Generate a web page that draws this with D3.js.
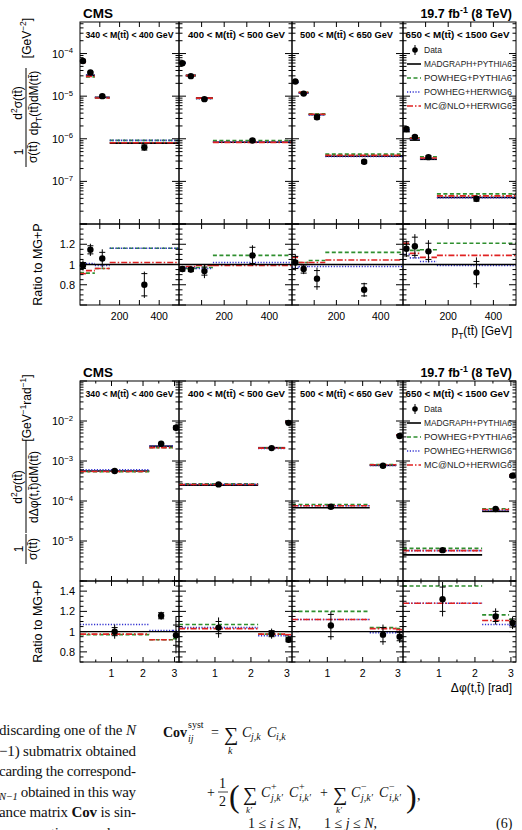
<!DOCTYPE html>
<meta charset="utf-8">
<style>
  body { margin: 0; background: #fff; }
  svg { font-family: "Liberation Sans", Arial, Helvetica, sans-serif; }
  .paper { font-family: "Liberation Serif", "Times New Roman", serif; }
</style>
<body>
<script src="https://d3js.org/d3.v7.min.js"></script>
<script>
// M(tt) bins, one per sub-panel
var massLabels = [["340", "400"], ["400", "500"], ["500", "650"], ["650", "1500"]];
var modelNames = ["MADGRAPH+PYTHIA6", "POWHEG+PYTHIA6", "POWHEG+HERWIG6", "MC@NLO+HERWIG6"];

// pT(tt) distribution
var ptEdges = [0, 30, 75, 150, 500];
var ptData = [[6.7e-5, 3.6e-5, 1.0e-5, 6.3e-7], [5.9e-5, 2.95e-5, 8.5e-6, 9.1e-7],
              [2.2e-5, 1.15e-5, 3.2e-6, 2.9e-7], [1.7e-6, 1.1e-6, 3.7e-7, 3.9e-8]];
var ptMG = [[6.8e-5, 3.1e-5, 9.4e-6, 7.9e-7], [6.2e-5, 3.1e-5, 9.1e-6, 8.3e-7],
            [2.15e-5, 1.2e-5, 3.7e-6, 3.9e-7], [1.47e-6, 9.3e-7, 3.3e-7, 4.2e-8]];
var ptRatioData = [[0.99, 1.145, 1.06, 0.80], [0.955, 0.95, 0.935, 1.09],
                   [1.02, 0.955, 0.86, 0.75], [1.155, 1.18, 1.13, 0.92]];
var ptErrTot = [[0.05, 0.06, 0.09, 0.13], [0.03, 0.03, 0.07, 0.10],
                [0.08, 0.05, 0.11, 0.07], [0.08, 0.12, 0.11, 0.15]];
var ptErrStat = [[0.03, 0.04, 0.06, 0.11], [0.02, 0.02, 0.04, 0.08],
                 [0.06, 0.04, 0.08, 0.06], [0.07, 0.09, 0.08, 0.11]];
var ptPowPy = [[0.92, 0.915, 0.96, 1.16], [0.96, 0.96, 0.97, 1.09],
               [1.04, 1.02, 1.04, 1.12], [1.20, 1.14, 1.145, 1.21]];
var ptPowHw = [[1.01, 1.01, 0.99, 1.16], [0.96, 0.97, 0.96, 1.02],
               [0.97, 0.98, 0.98, 0.98], [1.10, 1.065, 1.03, 0.99]];
var ptMcnlo = [[0.91, 0.94, 0.96, 1.02], [0.97, 0.98, 0.99, 0.99],
               [1.07, 1.02, 1.02, 1.045], [1.21, 1.11, 1.07, 1.09]];

// delta phi(t,tbar) distribution
var dphiEdges = [0, 2.2, 2.95, Math.PI];
var dphiData = [[5.6e-4, 2.7e-3, 6.8e-3], [2.6e-4, 2.1e-3, 9.0e-3],
                [7.2e-5, 7.6e-4, 4.2e-3], [5.9e-6, 6.3e-5, 4.3e-4]];
var dphiMG = [[5.6e-4, 2.35e-3, 7.0e-3], [2.5e-4, 2.15e-3, 9.8e-3],
              [6.8e-5, 7.8e-4, 4.4e-3], [4.5e-6, 5.5e-5, 4.0e-4]];
var dphiRatioData = [[1.0, 1.157, 0.965], [1.04, 0.98, 0.92],
                     [1.06, 0.97, 0.95], [1.32, 1.15, 1.085]];
var dphiErrTot = [[0.07, 0.04, 0.18], [0.10, 0.05, 0.03], [0.14, 0.10, 0.06], [0.17, 0.08, 0.06]];
var dphiErrStat = [[0.04, 0.03, 0.10], [0.06, 0.03, 0.02], [0.11, 0.07, 0.04], [0.12, 0.05, 0.04]];
var dphiPowPy = [[0.97, 0.92, 0.93], [1.07, 0.975, 0.96], [1.20, 1.04, 1.03], [1.45, 1.165, 1.12]];
var dphiPowHw = [[1.07, 1.01, 1.01], [1.04, 0.96, 0.96], [1.12, 0.99, 1.00], [1.28, 1.07, 1.06]];
var dphiMcnlo = [[0.975, 0.92, 0.96], [1.03, 0.975, 0.97], [1.12, 1.03, 1.02], [1.28, 1.11, 1.10]];

var W = 522, H = 830;
var X0 = [80, 179, 292, 403, 516];   // sub-panel edges
var colors = { mg: "#000", py: "#2f8f2f", hw: "#3030d0", nlo: "#e02222" };
var dashes = { mg: null, py: "4,2.5", hw: "1.2,1.6", nlo: "6,2,1.5,2" };
var tb = "t\u0304";

var svg = d3.select("body").append("svg").attr("width", W).attr("height", H);

// text with super/subscripts: segs = [[text, mode], ...]
function rich(sel, segs, size) {
  var shift = 0;
  segs.forEach(function(s) {
    var mode = s[1] || "n";
    var target = mode === "sup" ? -0.4 * size : mode === "sub" ? 0.3 * size : 0;
    var ts = sel.append("tspan").text(s[0]).attr("dy", target - shift);
    if (mode !== "n") ts.attr("font-size", size * 0.7);
    shift = target;
  });
  return sel;
}

function rotText(bx, cy, segs, size) {
  var t = svg.append("text")
    .attr("transform", "translate(" + bx + "," + cy + ") rotate(-90)")
    .attr("text-anchor", "middle").attr("font-size", size);
  return rich(t, segs, size);
}

function vline(x, y1, y2, w) {
  svg.append("line").attr("x1", x).attr("x2", x).attr("y1", y1).attr("y2", y2)
    .attr("stroke", "#000").attr("stroke-width", w || 1);
}

function drawPlot(o) {
  var y = d3.scaleLog().domain(o.yDomain).range([o.mainBot, o.mainTop]);
  var r = d3.scaleLinear().domain(o.rDomain).range([o.ratBot, o.mainBot]);
  var models = [["mg", null], ["py", o.py], ["hw", o.hw], ["nlo", o.nlo]];

  for (var i = 0; i < 4; i++) {
    var x = d3.scaleLinear().domain(o.xDomain).range([X0[i], X0[i + 1]]);
    var bins = d3.range(o.edges.length - 1);
    var g = svg.append("g");

    // model predictions: main and ratio panel
    models.forEach(function(m) {
      var rat = function(j) { return m[1] ? m[1][i][j] : 1; };
      g.selectAll(null).data(bins).enter().append("line")
        .attr("x1", function(j) { return x(o.edges[j]); })
        .attr("x2", function(j) { return x(o.edges[j + 1]); })
        .attr("y1", function(j) { return y(o.mg[i][j] * rat(j)); })
        .attr("y2", function(j) { return y(o.mg[i][j] * rat(j)); })
        .attr("stroke", colors[m[0]]).attr("stroke-width", 1.6)
        .attr("stroke-dasharray", dashes[m[0]]);
      if (m[1]) {
        g.selectAll(null).data(bins).enter().append("line")
          .attr("x1", function(j) { return x(o.edges[j]); })
          .attr("x2", function(j) { return x(o.edges[j + 1]); })
          .attr("y1", function(j) { return r(rat(j)); })
          .attr("y2", function(j) { return r(rat(j)); })
          .attr("stroke", colors[m[0]]).attr("stroke-width", 1.6)
          .attr("stroke-dasharray", dashes[m[0]]);
      }
    });
    g.append("line").attr("x1", X0[i]).attr("x2", X0[i + 1]).attr("y1", r(1)).attr("y2", r(1))
      .attr("stroke", "#000").attr("stroke-width", 1.4);

    // data points with stat (ticks) and total errors
    var cx = function(j) { return x((o.edges[j] + o.edges[j + 1]) / 2); };
    bins.forEach(function(j) {
      var d = o.data[i][j], rd = o.rdata[i][j];
      var relT = o.errTot[i][j] / rd, relS = o.errStat[i][j] / rd;
      var px = cx(j);
      g.append("line").attr("x1", px).attr("x2", px)
        .attr("y1", y(d * (1 - relT))).attr("y2", y(d * (1 + relT))).attr("stroke", "#000");
      g.append("line").attr("x1", px).attr("x2", px)
        .attr("y1", r(rd - o.errTot[i][j])).attr("y2", r(Math.min(rd + o.errTot[i][j], o.rDomain[1])))
        .attr("stroke", "#000");
      [-1, 1].forEach(function(s) {
        g.append("line").attr("x1", px - 3).attr("x2", px + 3)
          .attr("y1", r(rd + s * o.errStat[i][j])).attr("y2", r(rd + s * o.errStat[i][j]))
          .attr("stroke", "#000");
        g.append("line").attr("x1", px - 3).attr("x2", px + 3)
          .attr("y1", y(d * (1 + s * relS))).attr("y2", y(d * (1 + s * relS)))
          .attr("stroke", "#000");
      });
      g.append("circle").attr("cx", px).attr("cy", y(d)).attr("r", 3.2).attr("fill", "#000");
      g.append("circle").attr("cx", px).attr("cy", r(rd)).attr("r", 3.2).attr("fill", "#000");
    });

    // frames
    g.append("rect").attr("x", X0[i]).attr("y", o.mainTop).attr("width", X0[i + 1] - X0[i])
      .attr("height", o.mainBot - o.mainTop).attr("fill", "none").attr("stroke", "#000");
    g.append("rect").attr("x", X0[i]).attr("y", o.mainBot).attr("width", X0[i + 1] - X0[i])
      .attr("height", o.ratBot - o.mainBot).attr("fill", "none").attr("stroke", "#000");

    // log y ticks on both sides
    var lo = Math.floor(Math.log10(o.yDomain[0])), hi = Math.ceil(Math.log10(o.yDomain[1]));
    for (var n = lo; n <= hi; n++) {
      for (var k = 1; k <= 9; k++) {
        var v = k * Math.pow(10, n);
        if (v < o.yDomain[0] || v > o.yDomain[1]) continue;
        var len = k === 1 ? 7 : 3.5;
        g.append("line").attr("x1", X0[i]).attr("x2", X0[i] + len).attr("y1", y(v)).attr("y2", y(v)).attr("stroke", "#000");
        g.append("line").attr("x1", X0[i + 1] - len).attr("x2", X0[i + 1]).attr("y1", y(v)).attr("y2", y(v)).attr("stroke", "#000");
      }
    }
    // ratio y ticks
    d3.range(o.rDomain[0], o.rDomain[1] + 0.001, 0.05).forEach(function(v) {
      var major = Math.abs(v * 5 - Math.round(v * 5)) < 0.01;
      var len = major ? 7 : 3.5;
      g.append("line").attr("x1", X0[i]).attr("x2", X0[i] + len).attr("y1", r(v)).attr("y2", r(v)).attr("stroke", "#000");
      g.append("line").attr("x1", X0[i + 1] - len).attr("x2", X0[i + 1]).attr("y1", r(v)).attr("y2", r(v)).attr("stroke", "#000");
    });
    // x ticks, top and bottom of each panel
    o.xMajor.concat(o.xMinor).forEach(function(v, idx) {
      var len = idx < o.xMajor.length ? 5 : 2.5;
      [[o.mainTop, 1], [o.mainBot, -1], [o.mainBot, 1], [o.ratBot, -1]].forEach(function(p) {
        g.append("line").attr("x1", x(v)).attr("x2", x(v)).attr("y1", p[0]).attr("y2", p[0] + p[1] * len).attr("stroke", "#000");
      });
    });
    // x tick labels
    g.selectAll(null).data(o.xLabels).enter().append("text")
      .attr("x", function(v) { return x(v); }).attr("y", o.ratBot + 15)
      .attr("text-anchor", "middle").attr("font-size", 10.5).text(function(v) { return v; });

    // mass bin label
    svg.append("text").attr("x", (X0[i] + X0[i + 1]) / 2 + [0, 1, -1, -2][i]).attr("y", o.mainTop + 16)
      .attr("text-anchor", "middle").attr("font-size", 8.5).attr("font-weight", "bold")
      .attr("textLength", [88, 97, 93, 104][i]).attr("lengthAdjust", "spacingAndGlyphs")
      .text(massLabels[i][0] + " < M(t" + tb + ") < " + massLabels[i][1] + " GeV");
  }

  // y tick labels (leftmost panel only)
  o.yLabels.forEach(function(n) {
    var t = svg.append("text").attr("x", 73).attr("y", y(Math.pow(10, n)) + 4)
      .attr("text-anchor", "end").attr("font-size", 11);
    rich(t, [["10"], ["\u2212" + Math.abs(n), "sup"]], 11);
  });
  o.rLabels.forEach(function(v) {
    svg.append("text").attr("x", 75).attr("y", r(v) + 4).attr("text-anchor", "end")
      .attr("font-size", 11).text(v === 1 ? "1" : v.toFixed(1));
  });

  // header
  svg.append("text").attr("x", 83).attr("y", o.mainTop - 4).attr("font-size", 13.5)
    .attr("font-weight", "bold").text("CMS");
  var lum = svg.append("text").attr("x", 512).attr("y", o.mainTop - 4).attr("text-anchor", "end")
    .attr("font-size", 12.5).attr("font-weight", "bold");
  rich(lum, [["19.7 fb"], ["-1", "sup"], [" (8 TeV)"]], 12.5);

  // legend in the last panel
  var ly = o.mainTop + 28, lg = svg.append("g").attr("font-size", 8.5).attr("fill", "#222");
  lg.append("line").attr("x1", 415).attr("x2", 415).attr("y1", ly - 5).attr("y2", ly + 5).attr("stroke", "#000");
  lg.append("circle").attr("cx", 415).attr("cy", ly).attr("r", 2.8).attr("fill", "#000");
  lg.append("text").attr("x", 424).attr("y", ly + 3).text("Data");
  ["mg", "py", "hw", "nlo"].forEach(function(key, k) {
    var yy = ly + 14 * (k + 1);
    lg.append("line").attr("x1", 407).attr("x2", 421).attr("y1", yy).attr("y2", yy)
      .attr("stroke", colors[key]).attr("stroke-width", 1.6).attr("stroke-dasharray", dashes[key]);
    lg.append("text").attr("x", 424).attr("y", yy + 3).attr("textLength", 88)
      .attr("lengthAdjust", "spacingAndGlyphs").text(modelNames[k]);
  });

  // x axis title
  var xt = svg.append("text").attr("x", 512).attr("y", o.ratBot + 30).attr("text-anchor", "end").attr("font-size", 12);
  rich(xt, o.xTitle, 12);
  // ratio title
  rotText(42, (o.mainBot + o.ratBot) / 2, [["Ratio to MG+P"]], 12.5);
}

drawPlot({
  yDomain: [1e-8, 5.5e-4], rDomain: [0.6, 1.4], xDomain: [0, 500],
  mainTop: 22, mainBot: 224, ratBot: 305,
  edges: ptEdges, data: ptData, mg: ptMG, rdata: ptRatioData,
  errTot: ptErrTot, errStat: ptErrStat, py: ptPowPy, hw: ptPowHw, nlo: ptMcnlo,
  xMajor: [100, 200, 300, 400], xMinor: [], xLabels: [200, 400],
  yLabels: [-4, -5, -6, -7], rLabels: [0.8, 1, 1.2],
  xTitle: [["p"], ["T", "sub"], ["(t" + tb + ") [GeV]"]]
});

drawPlot({
  yDomain: [1e-6, 1e-1], rDomain: [0.7, 1.5], xDomain: [0, Math.PI],
  mainTop: 381, mainBot: 581, ratBot: 662,
  edges: dphiEdges, data: dphiData, mg: dphiMG, rdata: dphiRatioData,
  errTot: dphiErrTot, errStat: dphiErrStat, py: dphiPowPy, hw: dphiPowHw, nlo: dphiMcnlo,
  xMajor: [1, 2, 3], xMinor: [0.5, 1.5, 2.5], xLabels: [1, 2, 3],
  yLabels: [-2, -3, -4, -5], rLabels: [0.8, 1, 1.2, 1.4],
  xTitle: [["\u0394\u03c6(t,t\u0304) [rad]"]]
});

// y axis titles (rotated fractions)
rotText(23, 152, [["1"]], 12);
vline(26, 137, 167);
rotText(37, 152, [["\u03c3(t" + tb + ")"]], 12);
rotText(22, 103, [["d"], ["2", "sup"], ["\u03c3(t" + tb + ")"]], 12);
vline(26, 68, 137);
rotText(38, 103, [["dp"], ["T", "sub"], ["(t" + tb + ")dM(t" + tb + ")"]], 12);
rotText(31, 38, [["[GeV"], ["\u22122", "sup"], ["]"]], 12);

rotText(23, 549, [["1"]], 12);
vline(26, 534, 564);
rotText(37, 549, [["\u03c3(t" + tb + ")"]], 12);
rotText(22, 487, [["d"], ["2", "sup"], ["\u03c3(t" + tb + ")"]], 12);
vline(26, 440, 533);
rotText(38, 487, [["d\u0394\u03c6(t,t\u0304)dM(t" + tb + ")"]], 12);
rotText(31, 408, [["[GeV"], ["\u22121", "sup"], ["rad"], ["\u22121", "sup"], ["]"]], 12);

// paper text below the figure (left column is cut by the image edge)
var paper = svg.append("g").attr("class", "paper").attr("fill", "#111");
var leftLines = [
  [["discarding one of the "], ["N", "i"]],
  [["\u22121) submatrix obtained"]],
  [["carding the correspond-"]],
  [["N\u22121", "isub"], [" obtained in this way", "back"]],
  [["ance matrix "], ["Cov", "b"], [" is sin-"]],
  [["cross sections one loses"]]
];
leftLines.forEach(function(line, k) {
  var t = paper.append("text").attr("x", -1).attr("y", 735 + 20.5 * k).attr("font-size", 15)
    .attr("textLength", 137).attr("lengthAdjust", "spacing");
  line.forEach(function(s) {
    var ts = t.append("tspan").text(s[0]);
    if (s[1] === "i") ts.attr("font-style", "italic");
    if (s[1] === "b") ts.attr("font-weight", "bold");
    if (s[1] === "isub") ts.attr("font-style", "italic").attr("font-size", 10.5).attr("dy", 3);
    if (s[1] === "back") ts.attr("dy", -3);
  });
});

function ptxt(x, y, s, opt) {
  opt = opt || {};
  return paper.append("text").attr("x", x).attr("y", y).attr("font-size", opt.size || 14)
    .attr("font-style", opt.it ? "italic" : null).attr("font-weight", opt.b ? "bold" : null).text(s);
}
// Cov_ij^syst = sum_k C_jk C_ik
ptxt(163, 737, "Cov", { b: true });
ptxt(188, 728, "syst", { size: 10 });
ptxt(188, 742, "ij", { size: 10, it: true });
ptxt(211, 737, "=");
ptxt(224, 741, "\u2211", { size: 20 });
ptxt(228, 754, "k", { size: 10, it: true });
ptxt(242, 737, "C", { it: true }); ptxt(251, 740, "j,k", { size: 10, it: true });
ptxt(267, 737, "C", { it: true }); ptxt(276, 740, "i,k", { size: 10, it: true });
// + 1/2 ( ... )
ptxt(207, 797, "+");
ptxt(219, 788, "1");
paper.append("line").attr("x1", 218).attr("x2", 228).attr("y1", 792).attr("y2", 792).attr("stroke", "#111").attr("stroke-width", 0.8);
ptxt(219, 806, "2");
ptxt(229, 807, "(", { size: 32 });
ptxt(243, 801, "\u2211", { size: 20 });
ptxt(246, 813, "k\u2032", { size: 9, it: true });
ptxt(261, 797, "C", { it: true }); ptxt(271, 790, "+", { size: 10 }); ptxt(271, 801, "j,k\u2032", { size: 10, it: true });
ptxt(289, 797, "C", { it: true }); ptxt(299, 790, "+", { size: 10 }); ptxt(299, 801, "i,k\u2032", { size: 10, it: true });
ptxt(320, 797, "+");
ptxt(333, 801, "\u2211", { size: 20 });
ptxt(336, 813, "k\u2032", { size: 9, it: true });
ptxt(351, 797, "C", { it: true }); ptxt(361, 790, "\u2212", { size: 10 }); ptxt(361, 801, "j,k\u2032", { size: 10, it: true });
ptxt(379, 797, "C", { it: true }); ptxt(389, 790, "\u2212", { size: 10 }); ptxt(389, 801, "i,k\u2032", { size: 10, it: true });
ptxt(406, 807, ")", { size: 32 });
ptxt(417, 800, ",");
// 1 <= i <= N, 1 <= j <= N,   (6)
[[248, [["1 \u2264 "], ["i", 1], [" \u2264 "], ["N", 1], [","]]],
 [324, [["1 \u2264 "], ["j", 1], [" \u2264 "], ["N", 1], [","]]]].forEach(function(p) {
  var l3 = paper.append("text").attr("x", p[0]).attr("y", 828).attr("font-size", 14);
  p[1].forEach(function(s) {
    l3.append("tspan").text(s[0]).attr("font-style", s[1] ? "italic" : null);
  });
});
ptxt(496, 828, "(6)");
</script>
</body>
